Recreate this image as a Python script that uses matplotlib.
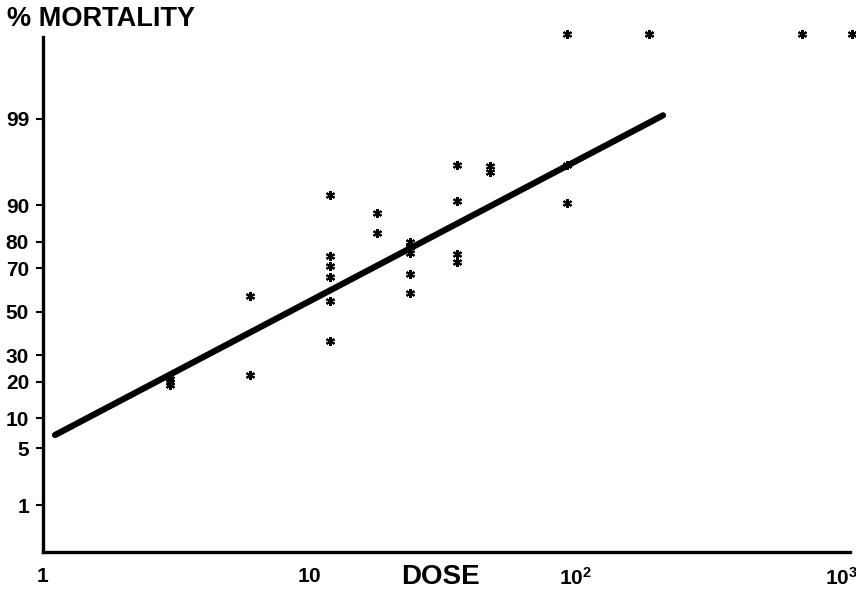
import numpy as np
import matplotlib
matplotlib.use('Agg')
import matplotlib.pyplot as plt
from statistics import NormalDist

# --- Data ---
dose = [3, 3, 3,
        6, 6,
        12, 12, 12, 12, 12, 12,
        18, 18,
        24, 24, 24, 24, 24,
        36, 36, 36, 36,
        48, 48,
        93, 93, 93,
        190, 190,
        715, 1100]
mortality = [20.9, 19.9, 18.9,
             57.5, 22.3,
             92.0, 74.9, 70.9, 66.2, 55.1, 36.2,
             88.3, 82.8,
             79.9, 78.2, 76.0, 67.5, 58.9,
             96.1, 90.8, 75.6, 72.5,
             96.0, 95.4,
             100, 96.1, 90.4,
             100, 100,
             100, 100]

# fitted probit line, two end points
fit_dose = [1.11, 214]
fit_mortality = [6.9, 99.1]

ytick_pct = [1, 5, 10, 20, 30, 50, 70, 80, 90, 99]
xtick_dose = [1, 10, 100, 1000]
xtick_labels = [r'$\mathbf{1}$', r'$\mathbf{10}$', r'$\mathbf{10^{2}}$', r'$\mathbf{10^{3}}$']

nd = NormalDist()


def probit(p):
    # percent -> probit units; 100% is drawn just under the top of the axis
    p = np.clip(np.asarray(p, dtype=float) / 100.0, 1e-6, 0.99958)
    return np.array([nd.inv_cdf(v) for v in np.atleast_1d(p)])


plt.rcParams['font.family'] = ['Liberation Sans', 'DejaVu Sans']
plt.rcParams['font.weight'] = 'bold'
plt.rcParams['mathtext.fontset'] = 'custom'
plt.rcParams['mathtext.rm'] = 'Liberation Sans'
plt.rcParams['mathtext.bf'] = 'Liberation Sans:bold'

fig = plt.figure(figsize=(8.56, 5.89), dpi=100)
ax = fig.add_axes([0.0502, 0.0628, 0.943, 0.874])

ax.set_xscale('log')
ax.plot(fit_dose, probit(fit_mortality), color='black', lw=4.5,
        solid_capstyle='round')
ax.plot(dose, probit(mortality), linestyle='none', marker=(6, 2, 0),
        markersize=6.5, mew=1.5, color='black', clip_on=False)

ax.set_xlim(1, 1081)
ax.set_ylim(-2.892, 3.306)

ax.set_yticks(probit(ytick_pct))
ax.set_yticklabels([str(v) for v in ytick_pct], fontsize=15, fontweight='bold')
ax.tick_params(axis='y', length=5, width=1.5, pad=5)
ax.set_xticks(xtick_dose)
ax.set_xticklabels(xtick_labels, fontsize=15)
ax.xaxis.set_minor_locator(matplotlib.ticker.NullLocator())
ax.tick_params(axis='x', length=0, pad=11)

for s in ['top', 'right']:
    ax.spines[s].set_visible(False)
for s in ['left', 'bottom']:
    ax.spines[s].set_linewidth(2.4)

fig.text(0.008, 0.968, '% MORTALITY', fontsize=19.5, fontweight='bold',
         va='center', ha='left')
fig.text(0.514, 0.02, 'DOSE', fontsize=20, fontweight='bold',
         va='center', ha='center')

fig.savefig('out.png', dpi=100)
